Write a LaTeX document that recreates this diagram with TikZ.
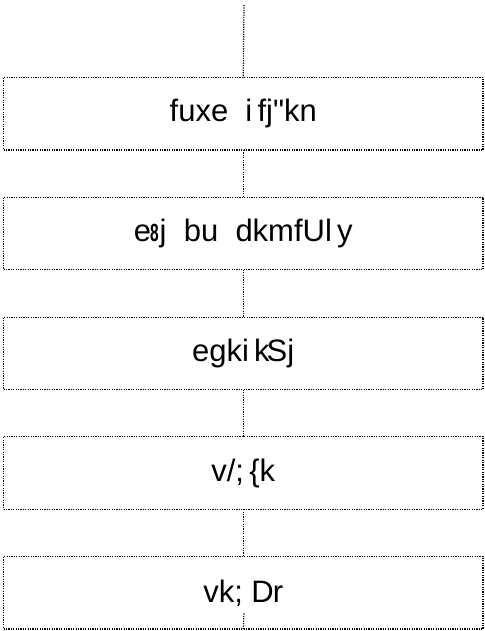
\documentclass[tikz,border=0pt]{standalone}
\usepackage{fontspec}
\setmainfont{Liberation Sans}[Ligatures=TeXOff]
\begin{document}
\begin{tikzpicture}[x=1pt,y=-1pt,
	post/.style={draw,dash pattern=on 1.2pt off 1.2pt,line width=1.2pt,minimum width=479.5pt,minimum height=72.5pt,inner sep=0pt,outer sep=0pt,font=\fontsize{31}{31}\selectfont},
	link/.style={dash pattern=on 1.2pt off 1.2pt,line width=1.2pt}]
	\useasboundingbox (0,0) rectangle (484,631);
	\node[post] (nigam) at (243.25,113.75) {fuxe\ \ i\,fj"kn};
	\node[post] (meyar) at (243.25,233.5) {e\kern-1pt\scalebox{0.5}[0.8]{\textbf{8}}\kern1pt j\ \ bu\ \ dkmfUl\,y};
	\node[post] (mahapaur) at (243.25,353.5) {egki\,k\kern-3pt Sj};
	\node[post] (adhyaksh) at (243.25,473) {v/;\,\{k};
	\node[post] (ayukt) at (243.25,592.75) {vk;\ D\kern-1pt r};
	\coordinate (top) at (244,5);
	\coordinate (stub) at (244,613);
	\draw[link] (top)--(nigam.north);
	\draw[link] (nigam.south)--(meyar.north);
	\draw[link] (meyar.south)--(mahapaur.north);
	\draw[link] (mahapaur.south)--(adhyaksh.north);
	\draw[link] (adhyaksh.south)--(ayukt.north);
	\draw[link] (ayukt.south)--(stub);
\end{tikzpicture}
\end{document}
